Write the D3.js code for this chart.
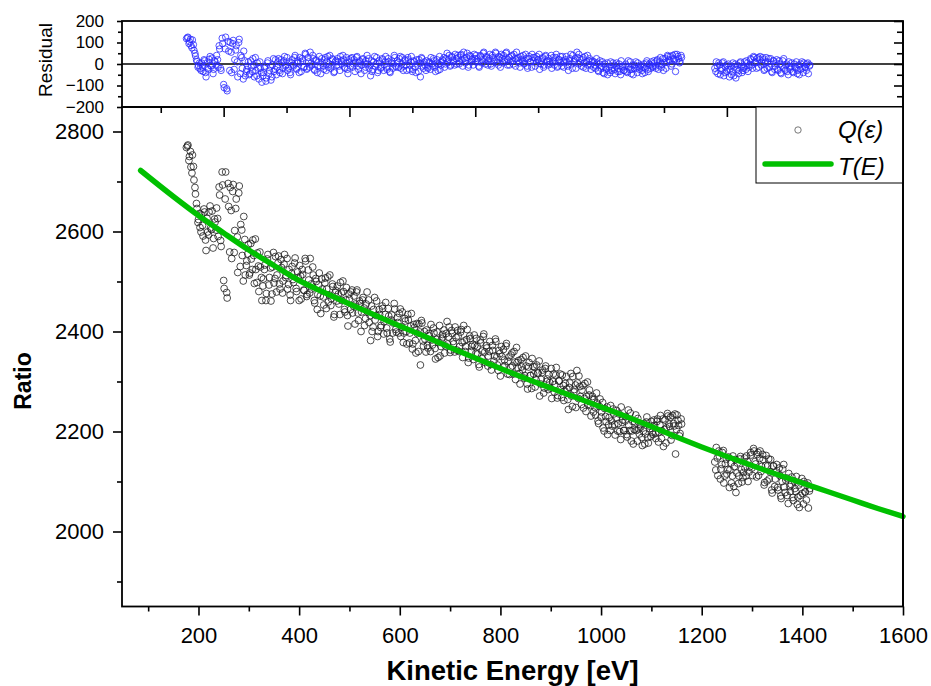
<!DOCTYPE html>
<html>
<head>
<meta charset="utf-8">
<script src="https://cdn.jsdelivr.net/npm/d3@7"></script>
<style>
  body { margin: 0; background: #fff; }
  svg { display: block; font-family: "Liberation Sans", Arial, sans-serif; }
</style>
</head>
<body>
<div id="chart"></div>
<script>
// measured points: kinetic energy [eV], ratio Q(eps), residual
// first half of each array = readings on the 176+3n grid, second half = the interleaved readings
var energy = [
  176,179,182,185,188,191,194,197,200,203,
  206,209,212,215,218,221,224,227,230,233,
  236,239,242,245,248,251,254,257,260,263,
  266,269,272,275,278,281,284,287,290,293,
  296,299,302,305,308,311,314,317,320,323,
  326,329,332,335,338,341,344,347,350,353,
  356,359,362,365,368,371,374,377,380,383,
  386,389,392,395,398,401,404,407,410,413,
  416,419,422,425,428,431,434,437,440,443,
  446,449,452,455,458,461,464,467,470,473,
  476,479,482,485,488,491,494,497,500,503,
  506,509,512,515,518,521,524,527,530,533,
  536,539,542,545,548,551,554,557,560,563,
  566,569,572,575,578,581,584,587,590,593,
  596,599,602,605,608,611,614,617,620,623,
  626,629,632,635,638,641,644,647,650,653,
  656,659,662,665,668,671,674,677,680,683,
  686,689,692,695,698,701,704,707,710,713,
  716,719,722,725,728,731,734,737,740,743,
  746,749,752,755,758,761,764,767,770,773,
  776,779,782,785,788,791,794,797,800,803,
  806,809,812,815,818,821,824,827,830,833,
  836,839,842,845,848,851,854,857,860,863,
  866,869,872,875,878,881,884,887,890,893,
  896,899,902,905,908,911,914,917,920,923,
  926,929,932,935,938,941,944,947,950,953,
  956,959,962,965,968,971,974,977,980,983,
  986,989,992,995,998,1001,1004,1007,1010,1013,
  1016,1019,1022,1025,1028,1031,1034,1037,1040,1043,
  1046,1049,1052,1055,1058,1061,1064,1067,1070,1073,
  1076,1079,1082,1085,1088,1091,1094,1097,1100,1103,
  1106,1109,1112,1115,1118,1121,1124,1127,1130,1133,
  1136,1139,1142,1145,1148,1151,1154,1157,1160,
  1226,1229,1232,1235,1238,1241,1244,1247,1250,1253,
  1256,1259,1262,1265,1268,1271,1274,1277,1280,1283,
  1286,1289,1292,1295,1298,1301,1304,1307,1310,1313,
  1316,1319,1322,1325,1328,1331,1334,1337,1340,1343,
  1346,1349,1352,1355,1358,1361,1364,1367,1370,1373,
  1376,1379,1382,1385,1388,1391,1394,1397,1400,1403,
  1406,1409,1412,1415,
  178,181,184,187,190,193,196,199,202,205,
  208,211,214,217,220,223,226,229,232,235,
  238,241,244,247,250,253,256,259,262,265,
  268,271,274,277,280,283,286,289,292,295,
  298,301,304,307,310,313,316,319,322,325,
  328,331,334,337,340,343,346,349,352,355,
  358,361,364,367,370,373,376,379,382,385,
  388,391,394,397,400,403,406,409,412,415,
  418,421,424,427,430,433,436,439,442,445,
  448,451,454,457,460,463,466,469,472,475,
  478,481,484,487,490,493,496,499,502,505,
  508,511,514,517,520,523,526,529,532,535,
  538,541,544,547,550,553,556,559,562,565,
  568,571,574,577,580,583,586,589,592,595,
  598,601,604,607,610,613,616,619,622,625,
  628,631,634,637,640,643,646,649,652,655,
  658,661,664,667,670,673,676,679,682,685,
  688,691,694,697,700,703,706,709,712,715,
  718,721,724,727,730,733,736,739,742,745,
  748,751,754,757,760,763,766,769,772,775,
  778,781,784,787,790,793,796,799,802,805,
  808,811,814,817,820,823,826,829,832,835,
  838,841,844,847,850,853,856,859,862,865,
  868,871,874,877,880,883,886,889,892,895,
  898,901,904,907,910,913,916,919,922,925,
  928,931,934,937,940,943,946,949,952,955,
  958,961,964,967,970,973,976,979,982,985,
  988,991,994,997,1000,1003,1006,1009,1012,1015,
  1018,1021,1024,1027,1030,1033,1036,1039,1042,1045,
  1048,1051,1054,1057,1060,1063,1066,1069,1072,1075,
  1078,1081,1084,1087,1090,1093,1096,1099,1102,1105,
  1108,1111,1114,1117,1120,1123,1126,1129,1132,1135,
  1138,1141,1144,1147,1150,1153,1156,1159,
  1228,1231,1234,1237,1240,1243,1246,1249,1252,1255,
  1258,1261,1264,1267,1270,1273,1276,1279,1282,1285,
  1288,1291,1294,1297,1300,1303,1306,1309,1312,1315,
  1318,1321,1324,1327,1330,1333,1336,1339,1342,1345,
  1348,1351,1354,1357,1360,1363,1366,1369,1372,1375,
  1378,1381,1384,1387,1390,1393,1396,1399,1402,1405,
  1408,1411,1414
];

var ratio = [
  2768,2773,2750,2729,2753,2703,2675,2646,2624,2608,
  2633,2591,2639,2562,2599,2639,2607,2641,2586,2619,
  2647,2590,2673,2570,2693,2486,2719,2467,2650,2688,
  2546,2694,2602,2665,2518,2691,2614,2552,2630,2513,
  2541,2574,2517,2545,2583,2496,2524,2557,2480,2529,
  2462,2505,2533,2476,2554,2508,2461,2529,2497,2550,
  2513,2551,2485,2528,2501,2554,2512,2485,2524,2462,
  2530,2498,2547,2480,2508,2532,2465,2514,2482,2541,
  2474,2503,2546,2485,2513,2457,2500,2474,2517,2436,
  2485,2453,2507,2485,2459,2513,2466,2490,2434,2482,
  2491,2455,2498,2462,2480,2439,2488,2411,2465,2479,
  2437,2471,2455,2483,2422,2456,2439,2468,2412,2455,
  2439,2418,2382,2400,2444,2423,2461,2400,2434,2412,
  2446,2420,2458,2397,2431,2379,2433,2417,2445,2399,
  2418,2436,2390,2439,2397,2421,2375,2423,2397,2436,
  2375,2408,2357,2396,2415,2333,2417,2371,2385,2403,
  2367,2391,2414,2373,2397,2345,2399,2378,2351,2385,
  2389,2357,2396,2375,2409,2363,2396,2375,2409,2363,
  2391,2370,2404,2348,2381,2370,2404,2347,2386,2370,
  2344,2372,2386,2355,2329,2377,2361,2395,2338,2367,
  2351,2380,2323,2362,2351,2380,2333,2362,2311,2350,
  2364,2332,2376,2340,2314,2353,2331,2360,2304,2338,
  2342,2295,2329,2348,2312,2331,2285,2338,2312,2346,
  2315,2289,2333,2317,2271,2304,2323,2287,2331,2305,
  2314,2287,2266,2315,2294,2328,2272,2301,2284,2313,
  2262,2296,2285,2244,2297,2271,2310,2284,2248,2297,
  2311,2270,2283,2247,2296,2270,2254,2283,2231,2270,
  2264,2233,2257,2216,2265,2239,2207,2246,2220,2194,
  2228,2252,2211,2235,2193,2242,2216,2200,2249,2223,
  2202,2230,2189,2213,2237,2201,2175,2219,2202,2226,
  2195,2209,2172,2216,2195,2229,2177,2206,2220,2194,
  2212,2186,2225,2199,2232,2201,2170,2223,2207,2231,
  2210,2183,2232,2211,2155,2233,2212,2196,2215,
  2139,2168,2112,2151,2125,2158,2097,2136,2115,2149,
  2123,2097,2151,2130,2078,2137,2111,2150,2099,2118,
  2127,2151,2100,2129,2153,2112,2161,2135,2154,2112,
  2161,2130,2144,2098,2152,2131,2105,2144,2077,2131,
  2105,2134,2083,2112,2066,2125,2089,2103,2072,2116,
  2080,2109,2062,2086,2110,2069,2048,2097,2076,2100,
  2079,2093,2047,2086,
  2771,2742,2760,2717,2730,2688,2656,2618,2636,2599,
  2612,2645,2583,2626,2593,2651,2604,2567,2625,2603,
  2626,2689,2582,2719,2502,2665,2478,2696,2559,2642,
  2680,2558,2646,2589,2677,2530,2603,2501,2584,2532,
  2555,2513,2576,2524,2552,2585,2498,2531,2559,2508,
  2491,2524,2462,2545,2493,2527,2475,2558,2506,2479,
  2537,2495,2544,2477,2535,2508,2546,2494,2473,2516,
  2504,2537,2486,2519,2462,2511,2524,2483,2546,2470,
  2523,2477,2495,2529,2462,2506,2444,2493,2471,2505,
  2469,2497,2446,2509,2473,2452,2495,2429,2478,2461,
  2475,2434,2477,2501,2444,2463,2432,2475,2444,2483,
  2451,2415,2479,2437,2461,2400,2463,2447,2426,2479,
  2463,2432,2451,2409,2468,2432,2390,2444,2408,2451,
  2395,2434,2407,2446,2385,2423,2397,2456,2404,2428,
  2397,2445,2409,2378,2426,2400,2434,2377,2411,2365,
  2414,2382,2416,2360,2399,2422,2381,2400,2359,2372,
  2396,2360,2383,2407,2366,2384,2348,2412,2370,2394,
  2403,2371,2420,2389,2358,2402,2380,2359,2388,2402,
  2360,2399,2378,2412,2360,2384,2338,2391,2360,2374,
  2393,2356,2370,2334,2383,2346,2390,2359,2372,2331,
  2360,2334,2372,2341,2385,2349,2322,2356,2370,2329,
  2343,2371,2315,2349,2328,2357,2315,2339,2368,2327,
  2316,2344,2323,2307,2351,2295,2329,2312,2286,2330,
  2329,2303,2317,2341,2295,2318,2277,2326,2300,2284,
  2298,2326,2300,2279,2313,2267,2301,2315,2268,2292,
  2281,2310,2264,2288,2316,2250,2279,2293,2322,2266,
  2290,2254,2292,2266,2240,2299,2273,2252,2265,2239,
  2248,2277,2221,2250,2229,2258,2201,2230,2249,2213,
  2202,2221,2245,2214,2227,2201,2235,2184,2218,2202,
  2221,2194,2243,2202,2181,2220,2204,2233,2181,2205,
  2214,2188,2201,2175,2219,2188,2211,2190,2199,2223,
  2196,2220,2179,2213,2186,2225,2204,2177,2236,2215,
  2229,2192,2216,2235,2204,2222,2191,2225,
  2123,2147,2161,2105,2134,2162,2111,2145,2124,2088,
  2137,2111,2090,2144,2117,2096,2145,2124,2108,2147,
  2111,2140,2119,2158,2127,2166,2140,2109,2158,2146,
  2120,2154,2093,2132,2101,2145,2119,2083,2131,2090,
  2119,2088,2127,2071,2100,2134,2078,2107,2056,2090,
  2094,2068,2101,2080,2054,2093,2072,2106,2055,2079,
  2063,2097,2081
];

var residual = [
  118,125,104,86,112,64,38,12,-8,-22,
  5,-35,15,-60,-20,22,-8,28,-25,10,
  40,-15,70,-30,95,-110,125,-125,60,100,
  -40,110,20,85,-60,115,40,-20,60,-55,
  -25,10,-45,-15,25,-60,-30,5,-70,-20,
  -85,-40,-10,-65,15,-30,-75,-5,-35,20,
  -15,25,-40,5,-20,35,-5,-30,10,-50,
  20,-10,40,-25,5,30,-35,15,-15,45,
  -20,10,55,-5,25,-30,15,-10,35,-45,
  5,-25,30,10,-15,40,-5,20,-35,15,
  25,-10,35,0,20,-20,30,-45,10,25,
  -15,20,5,35,-25,10,-5,25,-30,15,
  0,-20,-55,-35,10,-10,30,-30,5,-15,
  20,-5,35,-25,10,-40,15,0,30,-15,
  5,25,-20,30,-10,15,-30,20,-5,35,
  -25,10,-40,0,20,-60,25,-20,-5,15,
  -20,5,30,-10,15,-35,20,0,-25,10,
  15,-15,25,5,40,-5,30,10,45,0,
  30,10,45,-10,25,15,50,-5,35,20,
  -5,25,40,10,-15,35,20,55,0,30,
  15,45,-10,30,20,50,5,35,-15,25,
  40,10,55,20,-5,35,15,45,-10,25,
  30,-15,20,40,5,25,-20,35,10,45,
  15,-10,35,20,-25,10,30,-5,40,15,
  25,0,-20,30,10,45,-10,20,5,35,
  -15,20,10,-30,25,0,40,15,-20,30,
  45,5,20,-15,35,10,-5,25,-25,15,
  10,-20,5,-35,15,-10,-40,0,-25,-50,
  -15,10,-30,-5,-45,5,-20,-35,15,-10,
  -30,0,-40,-15,10,-25,-50,-5,-20,5,
  -25,-10,-45,0,-20,15,-35,-5,10,-15,
  5,-20,20,-5,30,0,-30,25,10,35,
  15,-10,40,20,-35,45,25,10,30,
  -20,10,-45,-5,-30,5,-55,-15,-35,0,
  -25,-50,5,-15,-65,-5,-30,10,-40,-20,
  -10,15,-35,-5,20,-20,30,5,25,-15,
  35,5,20,-25,30,10,-15,25,-40,15,
  -10,20,-30,0,-45,15,-20,-5,-35,10,
  -25,5,-40,-15,10,-30,-50,0,-20,5,
  -15,0,-45,-5,
  122,95,115,75,90,50,20,-15,5,-30,
  -15,20,-40,5,-25,35,-10,-45,15,-5,
  20,85,-20,120,-95,70,-115,105,-30,55,
  95,-25,65,10,100,-45,30,-70,15,-35,
  -10,-50,15,-35,-5,30,-55,-20,10,-40,
  -55,-20,-80,5,-45,-10,-60,25,-25,-50,
  10,-30,20,-45,15,-10,30,-20,-40,5,
  -5,30,-20,15,-40,10,25,-15,50,-25,
  30,-15,5,40,-25,20,-40,10,-10,25,
  -10,20,-30,35,0,-20,25,-40,10,-5,
  10,-30,15,40,-15,5,-25,20,-10,30,
  0,-35,30,-10,15,-45,20,5,-15,40,
  25,-5,15,-25,35,0,-40,15,-20,25,
  -30,10,-15,25,-35,5,-20,40,-10,15,
  -15,35,0,-30,20,-5,30,-25,10,-35,
  15,-15,20,-35,5,30,-10,10,-30,-15,
  10,-25,0,25,-15,5,-30,35,-5,20,
  30,0,50,20,-10,35,15,-5,25,40,
  0,40,20,55,5,30,-15,40,10,25,
  45,10,25,-10,40,5,50,20,35,-5,
  25,0,40,10,55,20,-5,30,45,5,
  20,50,-5,30,10,40,0,25,55,15,
  5,35,15,0,45,-10,25,10,-15,30,
  30,5,20,45,0,25,-15,35,10,-5,
  10,40,15,-5,30,-15,20,35,-10,15,
  5,35,-10,15,45,-20,10,25,55,0,
  25,-10,30,5,-20,40,15,-5,10,-15,
  -5,25,-30,0,-20,10,-45,-15,5,-30,
  -40,-20,5,-25,-10,-35,0,-50,-15,-30,
  -10,-35,15,-25,-45,-5,-20,10,-40,-15,
  -5,-30,-15,-40,5,-25,0,-20,-10,15,
  -10,15,-25,10,-15,25,5,-20,40,20,
  35,0,25,45,15,35,5,40,
  -35,-10,5,-50,-20,10,-40,-5,-25,-60,
  -10,-35,-55,0,-25,-45,5,-15,-30,10,
  -25,5,-15,25,-5,35,10,-20,30,20,
  -5,30,-30,10,-20,25,0,-35,15,-25,
  5,-25,15,-40,-10,25,-30,0,-50,-15,
  -10,-35,0,-20,-45,-5,-25,10,-40,-15,
  -30,5,-10
];

// fitted transmission curve T(E)
var fitEnergy = [85,150,200,250,300,350,400,450,500,550,600,650,700,750,800,850,
                 900,950,1000,1050,1100,1150,1200,1250,1300,1350,1400,1450,1500,1550,1600];
var fitValue  = [2722,2670,2632,2597,2563,2532,2502,2478,2455,2433,2411,2390,2368,2347,2326,2306,
                 2287,2268,2249,2230,2210,2189,2169,2150,2132,2114,2097,2080,2063,2046,2030];

var xTicks = [200,400,600,800,1000,1200,1400,1600];
var xMinor = [100,300,500,700,900,1100,1300,1500];
var yTicks = [2000,2200,2400,2600,2800];
var yMinor = [1900,2100,2300,2500,2700];
var resTicks = [-200,-100,0,100,200];
var resMinor = [-150,-50,50,150];
var resXTicks = [250,500,750,1000,1250,1500];
var resXMinor = [125,375,625,875,1125,1375];

var width = 931, height = 686;
var left = 122, right = 903;
var resTop = 21, mainTop = 107, mainBottom = 606.5;

var svg = d3.select('#chart').append('svg')
    .attr('width', width)
    .attr('height', height);

svg.append('rect').attr('width', width).attr('height', height).attr('fill', '#fff');

var xScale = d3.scaleLinear().domain([48, 1600]).range([left, right]);
var yScale = d3.scaleLinear().domain([1850, 2850]).range([mainBottom, mainTop - 0.5]);
var rScale = d3.scaleLinear().domain([-200, 200]).range([mainTop, resTop]);

var points = energy.map(function(e, i) {
  return {e: e, q: ratio[i], res: residual[i]};
});

// main scatter Q(eps)
svg.append('g').selectAll('circle')
  .data(points)
  .enter()
  .append('circle')
  .attr('cx', function(d) { return xScale(d.e); })
  .attr('cy', function(d) { return yScale(d.q); })
  .attr('r', 3.4)
  .attr('fill', 'none')
  .attr('stroke', '#1e1e1e')
  .attr('stroke-width', 0.8);

// fit T(E)
var fitLine = d3.line()
  .x(function(d) { return xScale(d[0]); })
  .y(function(d) { return yScale(d[1]); })
  .curve(d3.curveMonotoneX);

svg.append('path')
  .datum(d3.zip(fitEnergy, fitValue))
  .attr('d', fitLine)
  .attr('fill', 'none')
  .attr('stroke', '#00c000')
  .attr('stroke-width', 5.5)
  .attr('stroke-linecap', 'round');

// residual panel
svg.append('line')
  .attr('x1', left).attr('x2', right)
  .attr('y1', rScale(0)).attr('y2', rScale(0))
  .attr('stroke', '#000').attr('stroke-width', 1.4);

svg.append('g').selectAll('circle')
  .data(points)
  .enter()
  .append('circle')
  .attr('cx', function(d) { return xScale(d.e); })
  .attr('cy', function(d) { return rScale(d.res); })
  .attr('r', 3.2)
  .attr('fill', 'none')
  .attr('stroke', '#2a2aff')
  .attr('stroke-width', 0.8);

function styleAxis(g, size) {
  g.select('.domain').remove();
  g.selectAll('line').attr('stroke', '#000').attr('stroke-width', 1.6);
  g.selectAll('text')
    .attr('fill', '#000')
    .attr('font-size', size)
    .attr('font-family', '"Liberation Sans", Arial, sans-serif');
}

var plain = d3.format('d');

// main axes
svg.append('g').attr('transform', `translate(${left},0)`)
  .call(d3.axisLeft(yScale).tickValues(yTicks).tickFormat(plain).tickSize(9).tickPadding(9))
  .call(styleAxis, 22);
svg.append('g').attr('transform', `translate(${left},0)`)
  .call(d3.axisLeft(yScale).tickValues(yMinor).tickSize(5).tickFormat(''))
  .call(styleAxis, 22);
svg.append('g').attr('transform', `translate(0,${mainBottom})`)
  .call(d3.axisBottom(xScale).tickValues(xTicks).tickFormat(plain).tickSize(9).tickPadding(12))
  .call(styleAxis, 22);
svg.append('g').attr('transform', `translate(0,${mainBottom})`)
  .call(d3.axisBottom(xScale).tickValues(xMinor).tickSize(5).tickFormat(''))
  .call(styleAxis, 22);

// residual axes
svg.append('g').attr('transform', `translate(${left},0)`)
  .call(d3.axisLeft(rScale).tickValues(resTicks).tickFormat(plain).tickSize(5).tickPadding(13))
  .call(styleAxis, 17);
svg.append('g').attr('transform', `translate(${left},0)`)
  .call(d3.axisLeft(rScale).tickValues(resMinor).tickSize(4).tickFormat(''))
  .call(styleAxis, 17);
svg.append('g').attr('transform', `translate(${right},0)`)
  .call(d3.axisLeft(rScale).tickValues(resTicks).tickSize(9).tickFormat(''))
  .call(styleAxis, 17);
svg.append('g').attr('transform', `translate(${right},0)`)
  .call(d3.axisLeft(rScale).tickValues(resMinor).tickSize(6).tickFormat(''))
  .call(styleAxis, 17);
svg.append('g').attr('transform', `translate(0,${mainTop})`)
  .call(d3.axisBottom(xScale).tickValues(resXTicks).tickSize(10).tickFormat(''))
  .call(styleAxis, 17);
svg.append('g').attr('transform', `translate(0,${mainTop})`)
  .call(d3.axisBottom(xScale).tickValues(resXMinor).tickSize(6).tickFormat(''))
  .call(styleAxis, 17);

// frames
var frame = svg.append('g').attr('fill', 'none').attr('stroke', '#000').attr('stroke-width', 1.8);
frame.append('rect').attr('x', left).attr('y', resTop).attr('width', right - left).attr('height', mainTop - resTop);
frame.append('rect').attr('x', left).attr('y', mainTop).attr('width', right - left).attr('height', mainBottom - mainTop);

// legend
var legend = svg.append('g');
legend.append('rect')
  .attr('x', 756).attr('y', mainTop)
  .attr('width', right - 756).attr('height', 76)
  .attr('fill', '#fff').attr('stroke', '#000').attr('stroke-width', 1);
legend.append('circle')
  .attr('cx', 798).attr('cy', 130).attr('r', 3.2)
  .attr('fill', 'none').attr('stroke', '#555').attr('stroke-width', 0.8);
legend.append('line')
  .attr('x1', 765).attr('x2', 831).attr('y1', 164).attr('y2', 164)
  .attr('stroke', '#00c000').attr('stroke-width', 5.5).attr('stroke-linecap', 'round');
legend.append('text')
  .attr('x', 838).attr('y', 138)
  .attr('font-size', 24).attr('font-style', 'italic')
  .text('Q(\u03B5)');
legend.append('text')
  .attr('x', 838).attr('y', 175)
  .attr('font-size', 24).attr('font-style', 'italic')
  .text('T(E)');
// redraw the frame edge over legend
svg.append('line').attr('x1', right).attr('x2', right).attr('y1', resTop).attr('y2', mainBottom)
  .attr('stroke', '#000').attr('stroke-width', 1.8);

// titles
svg.append('text')
  .attr('x', (left + right) / 2).attr('y', 680)
  .attr('text-anchor', 'middle')
  .attr('font-size', 27.5).attr('font-weight', 'bold')
  .text('Kinetic Energy [eV]');

svg.append('text')
  .attr('transform', 'translate(31,381) rotate(-90)')
  .attr('text-anchor', 'middle')
  .attr('font-size', 23).attr('font-weight', 'bold')
  .text('Ratio');

svg.append('text')
  .attr('transform', `translate(52,60) rotate(-90)`)
  .attr('text-anchor', 'middle')
  .attr('font-size', 19)
  .text('Residual');
</script>
</body>
</html>
